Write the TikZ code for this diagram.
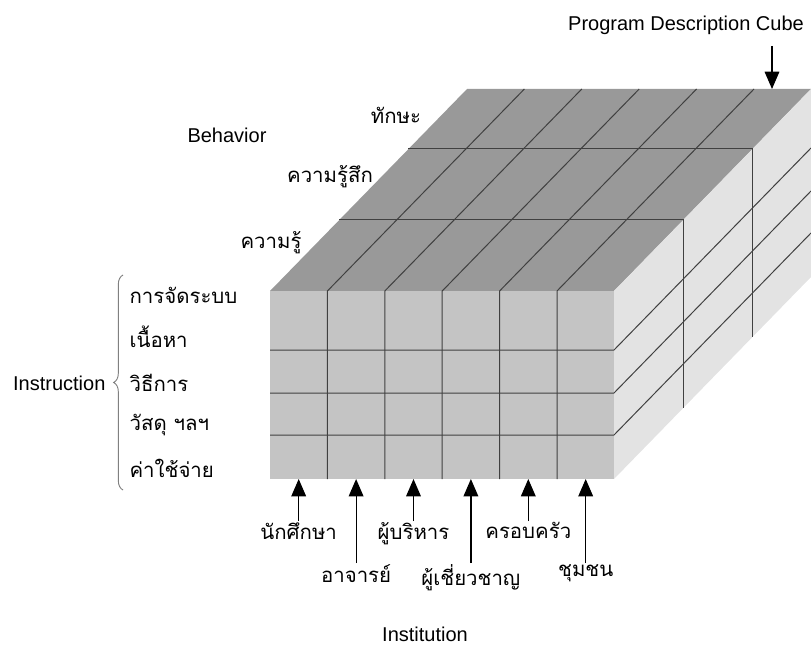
\documentclass[tikz,border=0pt]{standalone}
\usepackage{fontspec}
\setmainfont{Liberation Sans}
\newfontfamily\thaifont[Script=Thai]{Loma}
\usetikzlibrary{arrows.meta,decorations.pathreplacing,calc}

\definecolor{topgray}{gray}{0.6}
\definecolor{frontgray}{gray}{0.77}
\definecolor{sidegray}{gray}{0.89}
\definecolor{gridgray}{gray}{0.25}

\tikzset{
    lbl/.style={font=\fontsize{15}{18}\selectfont, inner sep=1pt},
    thai/.style={font=\thaifont\fontsize{15.3}{18}\selectfont, inner sep=1pt},
    arr/.style={-{Triangle[width=11pt,length=13pt]}, line width=0.9pt},
    gridline/.style={draw=gridgray, line width=0.75pt}
}

\begin{document}
\begin{tikzpicture}[x=0.75pt,y=-0.75pt]
    \useasboundingbox (0,0) rectangle (811,649);

    % corners of the cube
    \coordinate (fa) at (270,291);
    \coordinate (fb) at (614,291);
    \coordinate (fc) at (614,479);
    \coordinate (fd) at (270,479);
    \coordinate (depth) at (197,-202);

    \fill[topgray] (fa) -- ($(fa)+(depth)$) -- ($(fb)+(depth)$) -- (fb) -- cycle;
    \fill[sidegray] (fb) -- ($(fb)+(depth)$) -- ($(fc)+(depth)$) -- (fc) -- cycle;
    \fill[frontgray] (fa) rectangle (fc);

    \foreach \x in {327.4,384.8,442.2,499.6,557}
        \draw[gridline] (\x,479) -- (\x,291) -- ++(197,-202);
    \foreach \y in {350,393,435}
        \draw[gridline] (270,\y) -- (614,\y) -- ++(197,-202);
    \foreach \f in {0.3515,0.703}
        \draw[gridline] ($(fa)+\f*(depth)$) -- ($(fb)+\f*(depth)$) -- ($(fc)+\f*(depth)$);

    % labels
    \node[lbl] (pdc) at (686,25) {Program Description Cube};
    \coordinate (pdcTail) at (772,46);
    \coordinate (pdcTip) at (772,89);
    \draw[arr] (pdcTail) -- (pdcTip);

    \node[lbl] (behavior) at (227,135) {Behavior};
    \node[thai] (skill) at (396,115) {ทักษะ};
    \node[thai] (attitude) at (330,177) {ความรู้สึก};
    \node[thai] (knowledge) at (271,243) {ความรู้};

    \node[thai,anchor=west] (organize) at (128,295) {การจัดระบบ};
    \node[thai,anchor=west] (content) at (128,337) {เนื้อหา};
    \node[thai,anchor=west] (method) at (128,383) {วิธีการ};
    \node[thai,anchor=west] (material) at (128,425) {วัสดุ ฯลฯ};
    \node[thai,anchor=west] (cost) at (128,468) {ค่าใช้จ่าย};
    \draw[decorate,decoration={brace,amplitude=7pt},draw=gray,line width=0.7pt]
        (123,490) -- (123,275);
    \node[lbl,anchor=east] (instruction) at (107,383) {Instruction};

    \node[thai,anchor=north] (student) at (298.7,521) {นักศึกษา};
    \node[thai,anchor=north] (teacher) at (356.1,563) {อาจารย์};
    \node[thai,anchor=north] (admin) at (413.5,521) {ผู้บริหาร};
    \node[thai,anchor=north] (expert) at (470.9,563) {ผู้เชี่ยวชาญ};
    \node[thai,anchor=north] (family) at (528.3,521) {ครอบครัว};
    \node[thai,anchor=north] (community) at (585.7,563) {ชุมชน};
    \foreach \n in {student,teacher,admin,expert,family,community}
        \draw[arr] (\n.north) -- (\n.north |- fd);

    \node[lbl] (institution) at (425,634) {Institution};
\end{tikzpicture}
\end{document}
